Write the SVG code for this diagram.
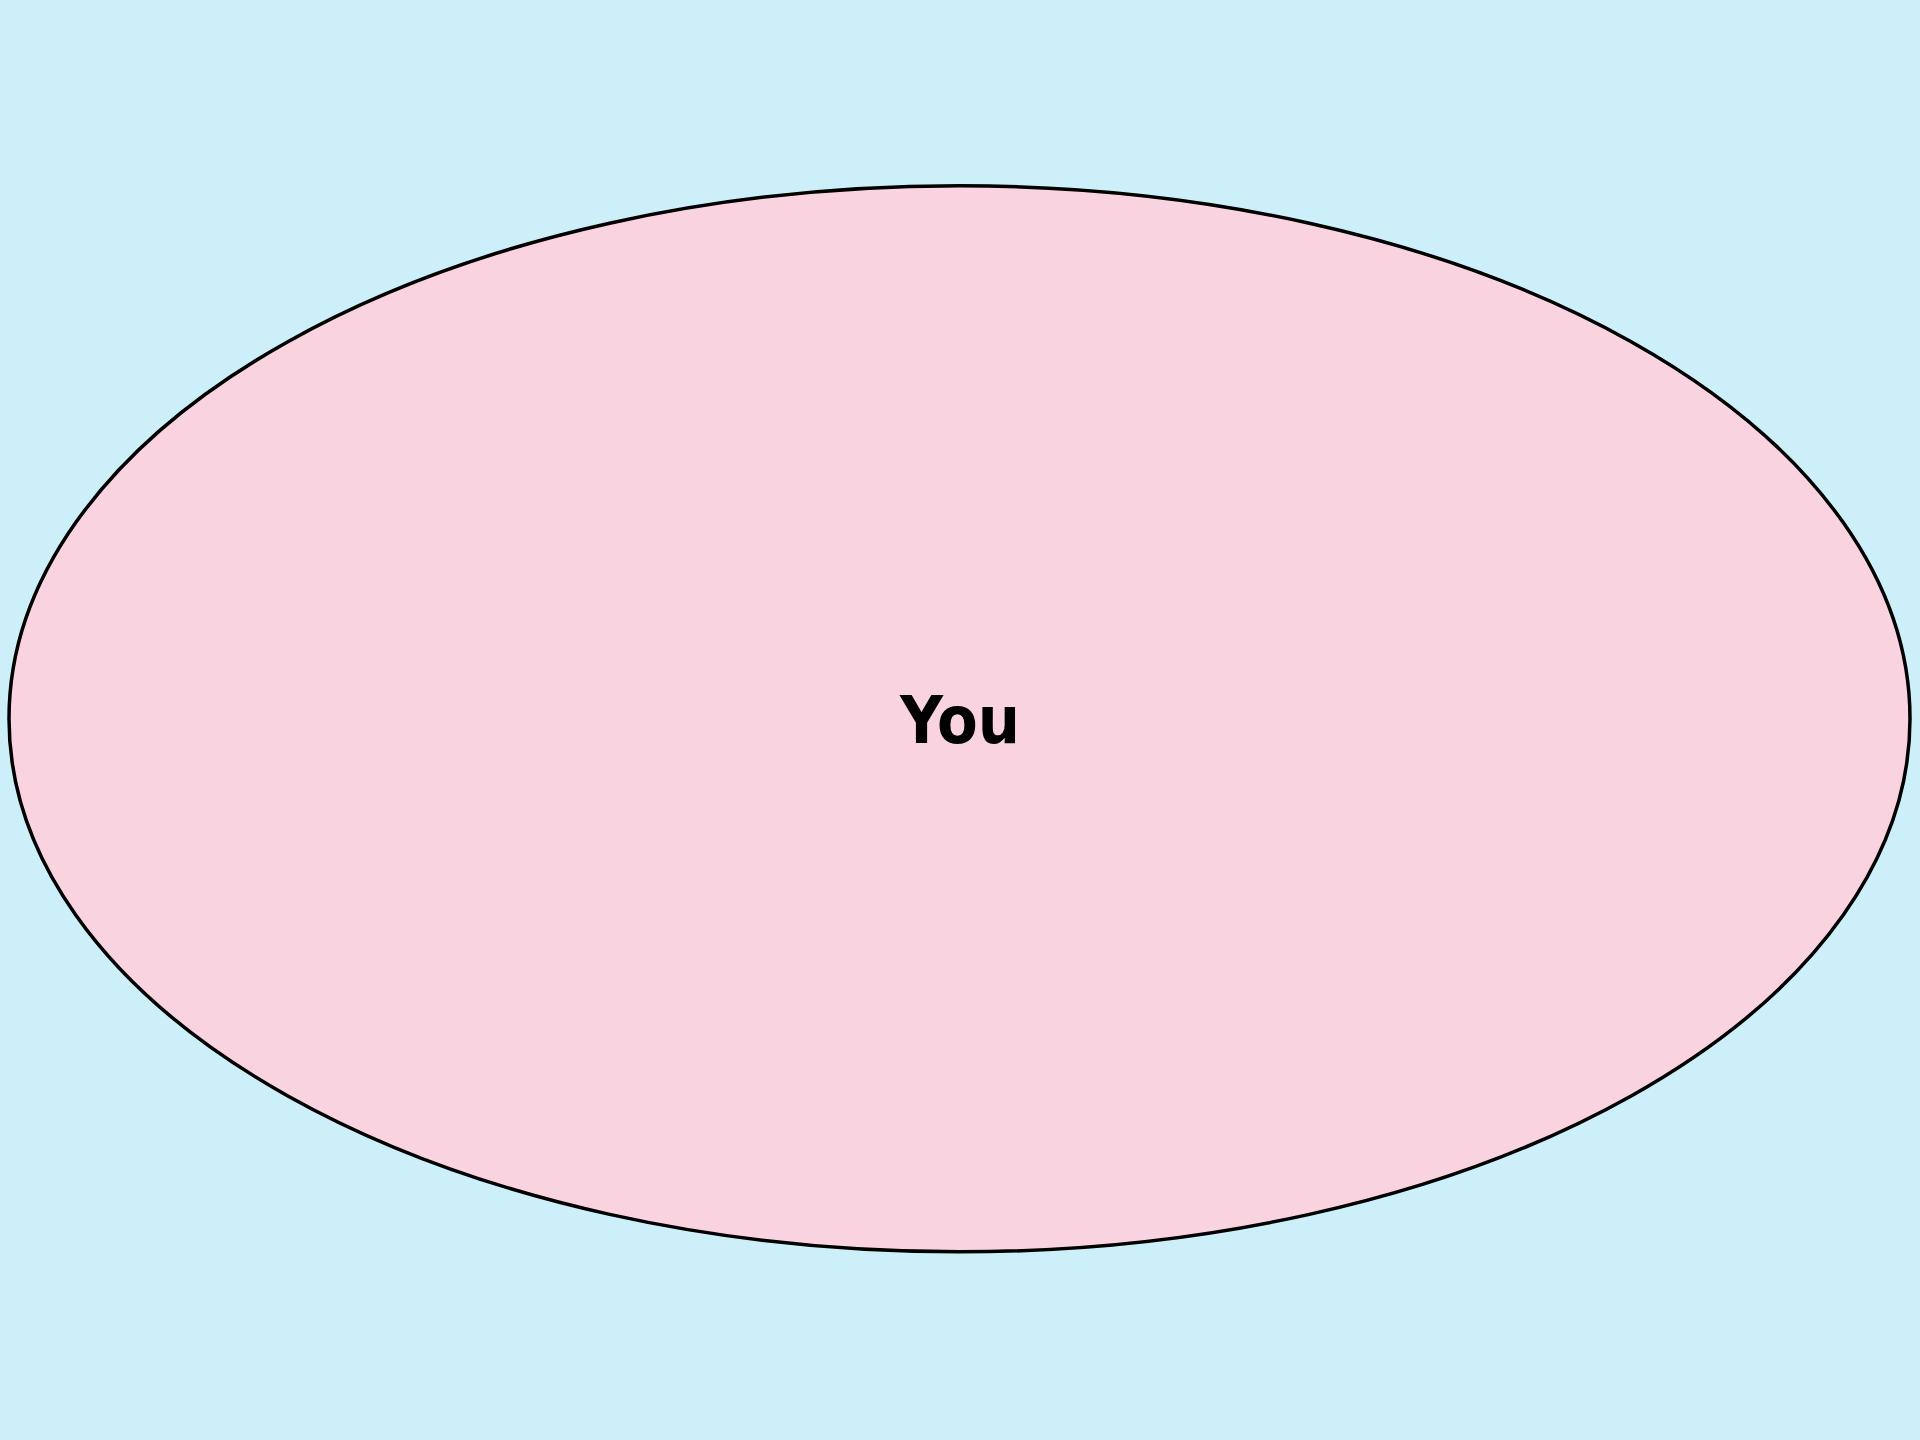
<svg xmlns="http://www.w3.org/2000/svg" width="1920" height="1440" viewBox="0 0 1920 1440">
<style>
.node{fill:#f9d4e0;stroke:#000;stroke-width:3.5}
.label{font-family:"DejaVu Sans Condensed","DejaVu Sans",sans-serif;font-stretch:condensed;font-weight:bold;font-size:66px;fill:#000;text-anchor:middle}
</style>
<rect width="1920" height="1440" fill="#cceffa"/>
<g id="connectors"></g>
<g id="you">
<ellipse class="node" cx="959.5" cy="718.8" rx="950.5" ry="533"/>
<text class="label" x="960" y="743">You</text>
</g>
</svg>
